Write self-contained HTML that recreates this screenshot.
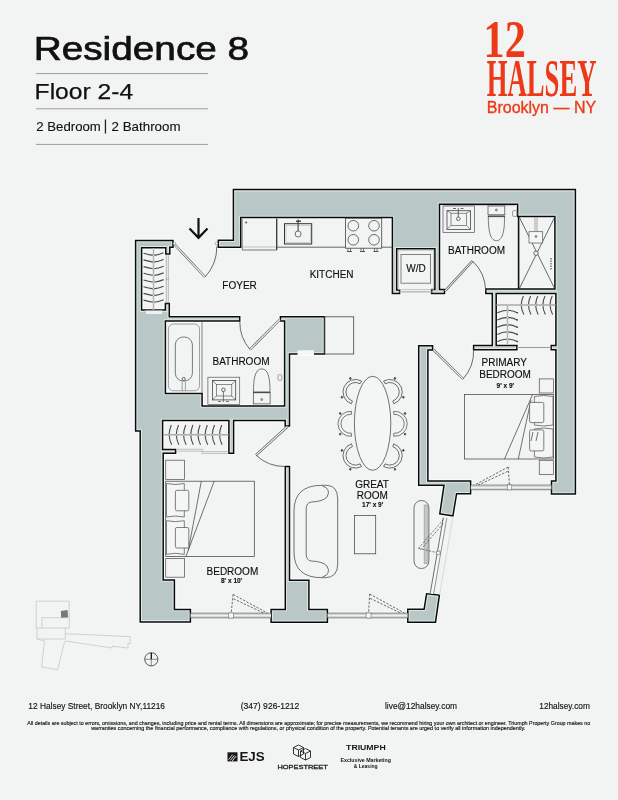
<!DOCTYPE html>
<html><head><meta charset="utf-8"><title>Residence 8</title>
<style>
html,body{margin:0;padding:0;background:#f2f4f3;}
body{width:618px;height:800px;overflow:hidden;position:relative;font-family:"Liberation Sans",sans-serif;}
svg{position:absolute;left:0;top:0;display:block;will-change:transform;}
</style></head><body>
<svg width="618" height="800" viewBox="0 0 618 800" font-family="Liberation Sans, sans-serif">
<rect x="0" y="0" width="618" height="800" fill="#f2f4f3"/>

<!-- ===== HEADER ===== -->
<g id="header">
  <text x="33.7" y="60.3" font-size="32.3" fill="#111" stroke="#111" stroke-width="0.7" textLength="215.5" lengthAdjust="spacingAndGlyphs">Residence 8</text>
  <line x1="36" y1="73.6" x2="208" y2="73.6" stroke="#9e9a9a" stroke-width="1"/>
  <text x="34.6" y="99" font-size="22.3" fill="#111" stroke="#111" stroke-width="0.25" textLength="98.6" lengthAdjust="spacingAndGlyphs">Floor 2-4</text>
  <line x1="36" y1="108.8" x2="208" y2="108.8" stroke="#9e9a9a" stroke-width="1"/>
  <text x="36.3" y="131.2" font-size="12.4" fill="#111" stroke="#111" stroke-width="0.12" textLength="64.5" lengthAdjust="spacingAndGlyphs">2 Bedroom</text>
  <rect x="104.8" y="119.5" width="1.3" height="14" fill="#222"/>
  <text x="111.6" y="131.2" font-size="12.4" fill="#111" stroke="#111" stroke-width="0.12" textLength="69" lengthAdjust="spacingAndGlyphs">2 Bathroom</text>
  <line x1="36" y1="144.4" x2="208" y2="144.4" stroke="#9e9a9a" stroke-width="1"/>
</g>

<!-- ===== LOGO ===== -->
<g id="logo" fill="#ec3a19">
  <text x="483.6" y="56.7" font-family="Liberation Serif, serif" font-weight="bold" font-size="53.6" textLength="42.2" lengthAdjust="spacingAndGlyphs">12</text>
  <text x="486.8" y="95.6" font-family="Liberation Serif, serif" font-weight="bold" font-size="52" textLength="109.7" lengthAdjust="spacingAndGlyphs">HALSEY</text>
  <text x="486.8" y="113.1" font-size="16.3" stroke="#ec3a19" stroke-width="0.35" textLength="109.3" lengthAdjust="spacingAndGlyphs">Brooklyn — NY</text>
</g>

<!-- ===== FLOOR PLAN ===== -->
<g id="plan">
  <path fill="#fbfcfc" fill-rule="evenodd" d="M242.60,249.10 L242.60,219.50 L390.50,219.50 L390.50,295.30 L401.50,295.30 L401.50,288.10 L398.60,288.10 L398.60,250.60 L433.00,250.60 L433.00,287.70 L429.70,287.70 L429.70,295.40 L446.40,295.40 L446.40,287.70 L441.40,287.70 L441.40,206.10 L515.70,206.10 L515.70,218.30 L553.00,218.30 L553.00,287.10 L483.90,287.10 L483.90,295.30 L490.40,295.30 L490.40,343.50 L471.70,343.50 L471.70,351.60 L518.80,351.60 L518.80,343.50 L498.10,343.50 L498.10,295.30 L554.00,295.30 L554.00,343.50 L549.30,343.50 L549.30,351.60 L554.00,351.60 L554.00,479.10 L549.60,479.10 L549.60,496.00 L577.30,496.00 L577.30,187.70 L231.50,187.70 L231.50,238.40 L216.40,238.40 L216.40,249.10 Z M441.80,487.20 L437.64,515.39 L454.46,517.96 L458.21,495.70 L472.50,495.70 L472.50,479.10 L429.80,479.10 L429.80,351.80 L434.50,351.80 L434.50,343.90 L416.80,343.90 L416.80,487.20 Z M405.90,624.10 L437.15,624.10 L441.56,593.42 L425.01,591.61 L422.48,607.30 L405.90,607.30 Z M269.20,624.10 L329.30,624.10 L329.30,607.60 L310.80,607.60 L310.80,578.40 L291.40,578.40 L291.40,464.60 L283.40,464.60 L283.40,607.60 L269.20,607.60 Z M138.30,432.90 L138.30,623.80 L192.30,623.80 L192.30,607.60 L176.30,607.60 L176.30,578.10 L165.10,578.10 L165.10,455.20 L177.50,455.20 L177.50,447.70 L164.50,447.70 L164.50,422.40 L227.00,422.40 L227.00,455.20 L235.50,455.20 L235.50,422.40 L283.30,422.40 L283.30,427.90 L291.40,427.90 L291.40,355.90 L326.40,355.90 L326.40,314.90 L278.50,314.90 L278.50,322.90 L282.70,322.90 L282.70,404.10 L204.00,404.10 L204.00,391.50 L167.30,391.50 L167.30,322.90 L241.60,322.90 L241.60,314.90 L171.20,314.90 L171.20,301.70 L163.50,301.70 L163.50,308.20 L143.50,308.20 L143.50,249.60 L163.90,249.60 L163.90,255.80 L171.70,255.80 L171.70,249.20 L174.90,249.20 L174.90,238.50 L133.70,238.50 L133.70,432.90 Z"/>
  <path fill="#0a0a0a" fill-rule="evenodd" d="M241.45,247.95 L241.45,218.35 L391.65,218.35 L391.65,294.15 L400.35,294.15 L400.35,289.25 L397.45,289.25 L397.45,249.45 L434.15,249.45 L434.15,288.85 L430.85,288.85 L430.85,294.25 L445.25,294.25 L445.25,288.85 L440.25,288.85 L440.25,204.95 L516.85,204.95 L516.85,217.15 L554.15,217.15 L554.15,288.25 L485.05,288.25 L485.05,294.15 L491.55,294.15 L491.55,344.65 L472.85,344.65 L472.85,350.45 L517.65,350.45 L517.65,344.65 L496.95,344.65 L496.95,294.15 L555.15,294.15 L555.15,344.65 L550.45,344.65 L550.45,350.45 L555.15,350.45 L555.15,480.25 L550.75,480.25 L550.75,494.85 L576.15,494.85 L576.15,188.85 L232.65,188.85 L232.65,239.55 L217.55,239.55 L217.55,247.95 Z M443.13,486.05 L438.95,514.43 L453.52,516.65 L457.23,494.55 L471.35,494.55 L471.35,480.25 L428.65,480.25 L428.65,350.65 L433.35,350.65 L433.35,345.05 L417.95,345.05 L417.95,486.05 Z M407.05,622.95 L436.15,622.95 L440.25,594.44 L425.97,592.88 L423.46,608.45 L407.05,608.45 Z M270.35,622.95 L328.15,622.95 L328.15,608.75 L309.65,608.75 L309.65,579.55 L290.25,579.55 L290.25,465.75 L284.55,465.75 L284.55,608.75 L270.35,608.75 Z M139.45,431.75 L139.45,622.65 L191.15,622.65 L191.15,608.75 L175.15,608.75 L175.15,579.25 L163.95,579.25 L163.95,454.05 L176.35,454.05 L176.35,448.85 L163.35,448.85 L163.35,421.25 L228.15,421.25 L228.15,454.05 L234.35,454.05 L234.35,421.25 L284.45,421.25 L284.45,426.75 L290.25,426.75 L290.25,354.75 L325.25,354.75 L325.25,316.05 L279.65,316.05 L279.65,321.75 L283.85,321.75 L283.85,405.25 L202.85,405.25 L202.85,392.65 L166.15,392.65 L166.15,321.75 L240.45,321.75 L240.45,316.05 L170.05,316.05 L170.05,302.85 L164.65,302.85 L164.65,309.35 L142.35,309.35 L142.35,248.45 L165.05,248.45 L165.05,254.65 L170.55,254.65 L170.55,248.05 L173.75,248.05 L173.75,239.65 L134.85,239.65 L134.85,431.75 Z"/>
  <path fill="#dbe8e5" fill-rule="evenodd" d="M239.95,246.45 L239.95,216.85 L393.15,216.85 L393.15,292.65 L398.85,292.65 L398.85,290.75 L395.95,290.75 L395.95,247.95 L435.65,247.95 L435.65,290.35 L432.35,290.35 L432.35,292.75 L443.75,292.75 L443.75,290.35 L438.75,290.35 L438.75,203.45 L518.35,203.45 L518.35,215.65 L555.65,215.65 L555.65,289.75 L486.55,289.75 L486.55,292.65 L493.05,292.65 L493.05,346.15 L474.35,346.15 L474.35,348.95 L516.15,348.95 L516.15,346.15 L495.45,346.15 L495.45,292.65 L556.65,292.65 L556.65,346.15 L551.95,346.15 L551.95,348.95 L556.65,348.95 L556.65,481.75 L552.25,481.75 L552.25,493.35 L574.65,493.35 L574.65,190.35 L234.15,190.35 L234.15,241.05 L219.05,241.05 L219.05,246.45 Z M444.87,484.55 L440.65,513.17 L452.28,514.95 L455.97,493.05 L469.85,493.05 L469.85,481.75 L427.15,481.75 L427.15,349.15 L431.85,349.15 L431.85,346.55 L419.45,346.55 L419.45,484.55 Z M408.55,621.45 L434.85,621.45 L438.55,595.76 L427.23,594.52 L424.74,609.95 L408.55,609.95 Z M271.85,621.45 L326.65,621.45 L326.65,610.25 L308.15,610.25 L308.15,581.05 L288.75,581.05 L288.75,467.25 L286.05,467.25 L286.05,610.25 L271.85,610.25 Z M140.95,430.25 L140.95,621.15 L189.65,621.15 L189.65,610.25 L173.65,610.25 L173.65,580.75 L162.45,580.75 L162.45,452.55 L174.85,452.55 L174.85,450.35 L161.85,450.35 L161.85,419.75 L229.65,419.75 L229.65,452.55 L232.85,452.55 L232.85,419.75 L285.95,419.75 L285.95,425.25 L288.75,425.25 L288.75,353.25 L323.75,353.25 L323.75,317.55 L281.15,317.55 L281.15,320.25 L285.35,320.25 L285.35,406.75 L201.35,406.75 L201.35,394.15 L164.65,394.15 L164.65,320.25 L238.95,320.25 L238.95,317.55 L168.55,317.55 L168.55,304.35 L166.15,304.35 L166.15,310.85 L140.85,310.85 L140.85,246.95 L166.55,246.95 L166.55,253.15 L169.05,253.15 L169.05,246.55 L172.25,246.55 L172.25,241.15 L136.35,241.15 L136.35,430.25 Z"/>
  <path fill="#b9c8c6" fill-rule="evenodd" d="M238.90,245.40 L238.90,215.80 L394.20,215.80 L394.20,291.60 L394.90,291.60 L394.90,246.90 L436.70,246.90 L436.70,291.40 L433.40,291.40 L433.40,291.70 L442.70,291.70 L442.70,291.40 L437.70,291.40 L437.70,202.40 L519.40,202.40 L519.40,214.60 L556.70,214.60 L556.70,290.80 L487.60,290.80 L487.60,291.60 L494.10,291.60 L494.10,347.20 L475.40,347.20 L475.40,347.90 L515.10,347.90 L515.10,347.20 L494.40,347.20 L494.40,291.60 L557.70,291.60 L557.70,347.20 L553.00,347.20 L553.00,347.90 L557.70,347.90 L557.70,482.80 L553.30,482.80 L553.30,492.30 L573.60,492.30 L573.60,191.40 L235.20,191.40 L235.20,242.10 L220.10,242.10 L220.10,245.40 Z M446.08,483.50 L441.84,512.29 L451.42,513.75 L455.08,492.00 L468.80,492.00 L468.80,482.80 L426.10,482.80 L426.10,348.10 L430.80,348.10 L430.80,347.60 L420.50,347.60 L420.50,483.50 Z M409.60,620.40 L433.94,620.40 L437.35,596.69 L428.10,595.68 L425.63,611.00 L409.60,611.00 Z M272.90,620.40 L325.60,620.40 L325.60,611.30 L307.10,611.30 L307.10,582.10 L287.70,582.10 L287.70,468.30 L287.10,468.30 L287.10,611.30 L272.90,611.30 Z M142.00,429.20 L142.00,620.10 L188.60,620.10 L188.60,611.30 L172.60,611.30 L172.60,581.80 L161.40,581.80 L161.40,451.50 L173.80,451.50 L173.80,451.40 L160.80,451.40 L160.80,418.70 L230.70,418.70 L230.70,451.50 L231.80,451.50 L231.80,418.70 L287.00,418.70 L287.00,424.20 L287.70,424.20 L287.70,352.20 L322.70,352.20 L322.70,318.60 L282.20,318.60 L282.20,319.20 L286.40,319.20 L286.40,407.80 L200.30,407.80 L200.30,395.20 L163.60,395.20 L163.60,319.20 L237.90,319.20 L237.90,318.60 L167.50,318.60 L167.50,305.40 L167.20,305.40 L167.20,311.90 L139.80,311.90 L139.80,245.90 L167.60,245.90 L167.60,252.10 L168.00,252.10 L168.00,245.50 L171.20,245.50 L171.20,242.20 L137.40,242.20 L137.40,429.20 Z"/>
</g>


<!-- ===== FURNITURE / FIXTURES ===== -->
<g id="fixtures" fill="none" stroke="#3e3e3e" stroke-width="0.75">
  <!-- light rects in walls -->
  <rect x="145.4" y="310.6" width="17.4" height="4" fill="#eef2f1" stroke="#9aa" stroke-width="0.5"/>
  <rect x="297.5" y="350.3" width="16.5" height="4.7" fill="#f6f7f7" stroke="none"/>

  <!-- entry arrow -->
  <path d="M198.5,218 V237.5 M189.5,228.5 L198.5,237.8 L207.5,228.5" stroke="#111" stroke-width="2.2"/>

  <!-- entry door -->
  <line x1="174.5" y1="244.5" x2="205" y2="277" stroke="#555" stroke-width="2.4"/>
  <line x1="174.5" y1="244.5" x2="205" y2="277" stroke="#f7f8f8" stroke-width="1.1"/>
  <path d="M205,277 A44,44 0 0 0 216.8,246.5" stroke="#444" stroke-width="0.8"/>
  <circle cx="174.4" cy="243.6" r="1.3" fill="#fff" stroke="#555" stroke-width="0.5"/>
  <circle cx="216.6" cy="243.6" r="1.3" fill="#fff" stroke="#555" stroke-width="0.5"/>

  <!-- foyer closet -->
  <line x1="153.5" y1="248" x2="153.5" y2="310" stroke="#b0b4b4" stroke-width="1.4"/>
  <path d="M143.5,253.2 Q148.5,254.8 153.5,255.4 Q158.5,254.8 163.6,252.8 M143.5,259.9 Q148.5,261.5 153.5,262.1 Q158.5,261.5 163.6,259.5 M143.5,266.6 Q148.5,268.2 153.5,268.8 Q158.5,268.2 163.6,266.2 M143.5,273.3 Q148.5,274.9 153.5,275.5 Q158.5,274.9 163.6,272.9 M143.5,280.0 Q148.5,281.6 153.5,282.2 Q158.5,281.6 163.6,279.6 M143.5,286.7 Q148.5,288.3 153.5,288.9 Q158.5,288.3 163.6,286.3 M143.5,293.4 Q148.5,295.0 153.5,295.6 Q158.5,295.0 163.6,293.0 M143.5,300.1 Q148.5,301.7 153.5,302.3 Q158.5,301.7 163.6,299.7" stroke="#4a4a4a" stroke-width="1.15"/>
  <g fill="#f4f6f5" stroke="#888" stroke-width="0.4"><circle cx="153.5" cy="255.4" r="0.9"/><circle cx="153.5" cy="262.1" r="0.9"/><circle cx="153.5" cy="268.8" r="0.9"/><circle cx="153.5" cy="275.5" r="0.9"/><circle cx="153.5" cy="282.2" r="0.9"/><circle cx="153.5" cy="288.9" r="0.9"/><circle cx="153.5" cy="295.6" r="0.9"/><circle cx="153.5" cy="302.3" r="0.9"/></g>
  <path d="M166.3,254 V303.6 M168.3,254 V303.6 M165.8,279 H168.8" stroke="#777" stroke-width="0.5"/>
  <!-- kitchen -->
  <path d="M242.2,219 V250 H276.7 V219" stroke="#444" stroke-width="0.7"/>
  <line x1="276.7" y1="218.5" x2="276.7" y2="250" stroke="#333" stroke-width="1.1"/>
  <line x1="242.2" y1="247" x2="276.7" y2="247" stroke="#777" stroke-width="0.4"/>
  <circle cx="246.2" cy="222.5" r="1" fill="#555" stroke="none"/>
  <line x1="276.7" y1="247.2" x2="345.4" y2="247.2" stroke="#444" stroke-width="0.8"/>
  <line x1="381.7" y1="247.2" x2="392.4" y2="247.2" stroke="#444" stroke-width="0.8"/>
  <rect x="284.5" y="223.7" width="27.2" height="20.3" stroke="#333" stroke-width="1"/>
  <rect x="286" y="225.2" width="24.2" height="17.3" stroke="#999" stroke-width="0.4"/>
  <circle cx="298.1" cy="234" r="3" stroke="#444"/>
  <line x1="298.1" y1="219.5" x2="298.1" y2="231" stroke="#333" stroke-width="1"/>
  <path d="M296,221.2 H301" stroke="#333" stroke-width="1.3"/>
  <rect x="345.4" y="218.2" width="36.3" height="30" stroke="#444" stroke-width="0.8"/>
  <circle cx="353.3" cy="225.7" r="5.3"/><circle cx="374" cy="225.7" r="5.3"/>
  <circle cx="353.3" cy="239.8" r="5.3"/><circle cx="374" cy="239.8" r="5.3"/>
  <path d="M348,248.2 V251.5 M350.5,248.2 V251.5 M361,248.2 V251.5 M363.5,248.2 V251.5 M374.5,248.2 V251.5 M377,248.2 V251.5" stroke="#444" stroke-width="0.7"/>
  <path d="M347,251.5 H352 M360,251.5 H365 M373.5,251.5 H378.5" stroke="#444" stroke-width="0.9"/>

  <!-- island -->
  <rect x="324.5" y="316.8" width="29.2" height="37.2" stroke="#444" stroke-width="0.8"/>

  <!-- W/D -->
  <rect x="398.6" y="250.2" width="35" height="39.5" stroke="#aaa" stroke-width="0.6"/>
  <rect x="401" y="254.4" width="29.6" height="28.8" stroke="#666" stroke-width="0.8"/>
  <line x1="399.6" y1="291.8" x2="431.6" y2="291.8" stroke="#bbb" stroke-width="1.5"/>

  <!-- right bathroom -->
  <line x1="443" y1="205.6" x2="515" y2="205.6" stroke="#999" stroke-width="0.6"/>
  <rect x="443" y="206" width="31.5" height="26.6" stroke="#555" stroke-width="0.7"/>
  <rect x="447" y="210.7" width="23.5" height="18.7" stroke="#444" stroke-width="0.8"/>
  <rect x="451" y="213.2" width="15.4" height="12.1" stroke="#444" stroke-width="0.6"/>
  <path d="M447,210.7 L451,213.2 M470.5,210.7 L466.4,213.2 M447,229.4 L451,225.3 M470.5,229.4 L466.4,225.3" stroke="#444" stroke-width="0.6"/>
  <circle cx="458.3" cy="218.8" r="1.8"/>
  <path d="M458.3,208 V217 M453,208.5 H456 M460.5,208.5 H463.5" stroke="#444" stroke-width="0.8"/>
  <rect x="488" y="206" width="16.8" height="8.8" stroke="#444" stroke-width="0.7"/>
  <circle cx="496.4" cy="210" r="0.9"/>
  <path d="M488.3,215.8 H504.6 C504.6,228 503.5,240.7 496.45,240.7 C489.4,240.7 488.3,228 488.3,215.8 Z" stroke="#444" stroke-width="0.7"/>
  <line x1="488" y1="216.6" x2="505" y2="216.6" stroke="#444" stroke-width="1"/>
  <rect x="512.5" y="210.5" width="4.5" height="6" rx="1.5" stroke="#666" stroke-width="0.6"/>
  <!-- shower -->
  <line x1="518.6" y1="216" x2="518.6" y2="289" stroke="#111" stroke-width="1.6"/>
  <path d="M519.5,217.5 L554.5,288.3 M554.5,217.5 L519.5,288.3" stroke="#444" stroke-width="0.8"/>
  <rect x="529" y="231.7" width="13.7" height="11.3" fill="#f4f6f5" stroke="#555" stroke-width="0.7"/>
  <path d="M535,217 V231.7 M537,217 V231.7" stroke="#888" stroke-width="0.7"/>
  <circle cx="536" cy="236.5" r="0.9"/>
  <circle cx="536" cy="253.2" r="2.2" fill="#f4f6f5"/>
  <path d="M551,258 V270" stroke="#555" stroke-width="1.2" stroke-dasharray="1.5 1"/>
  <!-- bathroom door -->
  <line x1="445" y1="291" x2="472.5" y2="261" stroke="#555" stroke-width="2.4"/>
  <line x1="445" y1="291" x2="472.5" y2="261" stroke="#f7f8f8" stroke-width="1.1"/>
  <path d="M472.5,261 A41.3,41.3 0 0 1 485.6,290.5" stroke="#444" stroke-width="0.8"/>

  <!-- walk-in closet -->
  <line x1="496.5" y1="305.1" x2="555.5" y2="305.1" stroke="#a8acac" stroke-width="1.5"/>
  <line x1="507.5" y1="305.1" x2="507.5" y2="345" stroke="#b0b4b4" stroke-width="1.4"/>
  <path d="M523.4,296 Q521.4,300 521.2,305.1 Q521.4,310 523.8,314.5 M530.6,296 Q528.6,300 528.4,305.1 Q528.6,310 531.0,314.5 M537.8,296 Q535.8,300 535.6,305.1 Q535.8,310 538.2,314.5 M545.0,296 Q543.0,300 542.8,305.1 Q543.0,310 545.4,314.5 M552.2,296 Q550.2,300 550.0,305.1 Q550.2,310 552.6,314.5" stroke="#4a4a4a" stroke-width="1.1"/>
  <path d="M497.3,312.8 Q502.4,310.4 507.5,310.2 Q512.5,310.4 517.4,312.8 M497.3,320.0 Q502.4,317.6 507.5,317.4 Q512.5,317.6 517.4,320.0 M497.3,327.2 Q502.4,324.8 507.5,324.6 Q512.5,324.8 517.4,327.2 M497.3,334.4 Q502.4,332.0 507.5,331.8 Q512.5,332.0 517.4,334.4 M497.3,341.6 Q502.4,339.2 507.5,339.0 Q512.5,339.2 517.4,341.6" stroke="#4a4a4a" stroke-width="1.1"/>
  <g fill="#f4f6f5" stroke="#888" stroke-width="0.4"><circle cx="521.2" cy="305.1" r="0.9"/><circle cx="528.4" cy="305.1" r="0.9"/><circle cx="535.6" cy="305.1" r="0.9"/><circle cx="542.8" cy="305.1" r="0.9"/><circle cx="550.0" cy="305.1" r="0.9"/><circle cx="507.5" cy="310.2" r="0.9"/><circle cx="507.5" cy="317.4" r="0.9"/><circle cx="507.5" cy="324.6" r="0.9"/><circle cx="507.5" cy="331.8" r="0.9"/><circle cx="507.5" cy="339.0" r="0.9"/></g>
  <g fill="#333" stroke="none"><circle cx="517.2" cy="312.8" r="0.8"/><circle cx="517.2" cy="320.0" r="0.8"/><circle cx="517.2" cy="327.2" r="0.8"/><circle cx="517.2" cy="334.4" r="0.8"/><circle cx="517.2" cy="341.6" r="0.8"/></g>
  <line x1="516.9" y1="347.5" x2="551.2" y2="347.5" stroke="#999" stroke-width="1.2"/>

  <!-- primary bedroom door -->
  <line x1="433.5" y1="349.8" x2="463" y2="379" stroke="#555" stroke-width="2.4"/>
  <line x1="433.5" y1="349.8" x2="463" y2="379" stroke="#f7f8f8" stroke-width="1.1"/>
  <path d="M463,379 A41.5,41.5 0 0 0 473.6,349.5" stroke="#444" stroke-width="0.8"/>

  <!-- primary bed -->
  <rect x="539.3" y="378.9" width="14.2" height="14.1" stroke="#555"/>
  <rect x="539.3" y="460.3" width="14.2" height="14.1" stroke="#555"/>
  <rect x="464.5" y="394.6" width="89" height="64.4" stroke="#444"/>
  <path d="M532.5,394.6 L504.5,459 M531,400 L518.3,459" stroke="#444"/>
  <path d="M534.4,396.5 Q543.7,394.5 553,396.5 V425 Q543.7,427 534.4,425 Z" fill="#f4f6f5" stroke="#555"/>
  <path d="M534.4,429 Q543.7,427 553,429 V457 Q543.7,459 534.4,457 Z" fill="#f4f6f5" stroke="#555"/>
  <rect x="529.6" y="402.4" width="14.2" height="20.2" rx="1.5" fill="#f4f6f5" stroke="#555"/>
  <rect x="529.6" y="429.9" width="14.2" height="21" rx="1.5" fill="#f4f6f5" stroke="#555"/>
  <path d="M533,432 L531,441 M538,432 L536,441" stroke="#444"/>
  <!-- primary window -->
  <rect x="470.8" y="485.1" width="80.5" height="4.6" fill="#f8f9f9" stroke="none"/><path d="M470.8,485.1 H551.3 M470.8,489.7 H551.3" stroke="#4a4a4a" stroke-width="0.7"/><path d="M470.8,486.5 H551.3 M470.8,488.3 H551.3" stroke="#a0a4a4" stroke-width="0.45"/><rect x="507.2" y="484.9" width="4.6" height="5.0" fill="#f8f9f9" stroke="#555" stroke-width="0.5"/>
  <path d="M508.2,467 L474.6,485 M507.6,471.4 L478.2,485 M508.2,467 L509.5,485" stroke="#3a3a3a" stroke-width="0.75" stroke-dasharray="2.3 1.5"/>

  <!-- left bathroom -->
  <rect x="168.4" y="324" width="31.1" height="66.8" rx="5" stroke="#666" stroke-width="0.6"/>
  <rect x="175.3" y="337" width="17.1" height="44.1" rx="8" stroke="#444" stroke-width="0.7"/>
  <circle cx="183.7" cy="379" r="1.6"/>
  <path d="M182.2,382 V391 M185.4,382 V391" stroke="#666" stroke-width="0.6"/>
  <line x1="202" y1="321" x2="202" y2="393.4" stroke="#555" stroke-width="0.7"/>
  <rect x="207.9" y="377.2" width="31.8" height="27.2" stroke="#555" stroke-width="0.7"/>
  <rect x="212.4" y="380.5" width="23.3" height="19.4" stroke="#444" stroke-width="0.8"/>
  <rect x="216.3" y="384.4" width="15.5" height="11.6" stroke="#444" stroke-width="0.6"/>
  <path d="M212.4,380.5 L216.3,384.4 M235.7,380.5 L231.8,384.4 M212.4,399.9 L216.3,396 M235.7,399.9 L231.8,396" stroke="#444" stroke-width="0.6"/>
  <circle cx="223.4" cy="389.8" r="1.8"/>
  <path d="M223.4,391.5 V402 M218,401.5 H221 M226,401.5 H229" stroke="#444" stroke-width="0.7"/>
  <rect x="253.3" y="392.8" width="16.8" height="11.1" stroke="#444" stroke-width="0.7"/>
  <circle cx="261.7" cy="399.5" r="0.9"/>
  <path d="M253.5,392 H270 C270,380 268.9,368.9 261.75,368.9 C254.6,368.9 253.5,380 253.5,392 Z" stroke="#444" stroke-width="0.7"/>
  <line x1="253" y1="392.4" x2="270.5" y2="392.4" stroke="#444" stroke-width="1"/>
  <rect x="278" y="374.5" width="3.8" height="6" rx="1.5" stroke="#666" stroke-width="0.6"/>
  <!-- left bathroom door -->
  <line x1="280" y1="319.5" x2="250" y2="349.5" stroke="#555" stroke-width="2.4"/>
  <line x1="280" y1="319.5" x2="250" y2="349.5" stroke="#f7f8f8" stroke-width="1.1"/>
  <path d="M250,349.5 A42,42 0 0 1 239.8,321.5" stroke="#444" stroke-width="0.8"/>

  <!-- bedroom closet -->
  <line x1="163" y1="434.8" x2="228.5" y2="434.8" stroke="#a8acac" stroke-width="1.5"/>
  <path d="M171.3,425 Q169.3,430 169.1,434.8 Q169.3,440 171.7,444.8 M178.5,425 Q176.5,430 176.3,434.8 Q176.5,440 178.9,444.8 M185.7,425 Q183.7,430 183.5,434.8 Q183.7,440 186.1,444.8 M192.9,425 Q190.9,430 190.7,434.8 Q190.9,440 193.3,444.8 M200.1,425 Q198.1,430 197.9,434.8 Q198.1,440 200.5,444.8 M207.3,425 Q205.3,430 205.1,434.8 Q205.3,440 207.7,444.8 M214.5,425 Q212.5,430 212.3,434.8 Q212.5,440 214.9,444.8 M221.7,425 Q219.7,430 219.5,434.8 Q219.7,440 222.1,444.8" stroke="#4a4a4a" stroke-width="1.1"/>
  <g fill="#f4f6f5" stroke="#888" stroke-width="0.4"><circle cx="169.1" cy="434.8" r="0.9"/><circle cx="176.3" cy="434.8" r="0.9"/><circle cx="183.5" cy="434.8" r="0.9"/><circle cx="190.7" cy="434.8" r="0.9"/><circle cx="197.9" cy="434.8" r="0.9"/><circle cx="205.1" cy="434.8" r="0.9"/><circle cx="212.3" cy="434.8" r="0.9"/><circle cx="219.5" cy="434.8" r="0.9"/></g>
  <path d="M176.8,449.3 H203.4 M176.8,451.2 H203.4 M201,451.6 H228.6 M201,453.4 H228.6" stroke="#888" stroke-width="0.5"/>

  <!-- bedroom door -->
  <line x1="287.5" y1="426.5" x2="256" y2="455.2" stroke="#555" stroke-width="2.4"/>
  <line x1="287.5" y1="426.5" x2="256" y2="455.2" stroke="#f7f8f8" stroke-width="1.1"/>
  <path d="M256,455.2 A42,42 0 0 0 285,466.5" stroke="#444" stroke-width="0.8"/>

  <!-- left bed -->
  <rect x="165.7" y="460.2" width="18.9" height="19.4" stroke="#555"/>
  <rect x="165.7" y="558.6" width="18.9" height="18.6" stroke="#555"/>
  <rect x="165.7" y="481.2" width="88.6" height="75.3" stroke="#444"/>
  <path d="M201.3,481.2 L188.3,550.5 M214.2,481.2 L185.9,556.5" stroke="#444"/>
  <path d="M166.5,483.5 Q175.4,485.5 184.3,483.5 V517 Q175.4,515 166.5,517 Z" fill="#f4f6f5" stroke="#555"/>
  <path d="M166.5,520.7 Q175.4,522.7 184.3,520.7 V554.3 Q175.4,552.3 166.5,554.3 Z" fill="#f4f6f5" stroke="#555"/>
  <rect x="175.4" y="490.3" width="13.4" height="20.5" rx="1.5" fill="#f4f6f5" stroke="#555"/>
  <rect x="175.4" y="527.5" width="13.4" height="20.5" rx="1.5" fill="#f4f6f5" stroke="#555"/>
  <!-- left bedroom window -->
  <rect x="190.6" y="613.2" width="80.4" height="4.6" fill="#f8f9f9" stroke="none"/><path d="M190.6,613.2 H271.0 M190.6,617.8 H271.0" stroke="#4a4a4a" stroke-width="0.7"/><path d="M190.6,614.6 H271.0 M190.6,616.4 H271.0" stroke="#a0a4a4" stroke-width="0.45"/><rect x="228.8" y="613.0" width="4.6" height="5.0" fill="#f8f9f9" stroke="#555" stroke-width="0.5"/>
  <path d="M233.1,594.4 L267.3,613 M233.6,598.8 L263.8,613.1 M233.1,594.4 L231.2,613" stroke="#3a3a3a" stroke-width="0.75" stroke-dasharray="2.3 1.5"/>

  <!-- great room: dining -->
  <g stroke="#444" stroke-width="0.7" fill="none">
    <g transform="translate(355.5,392) rotate(24)"><path d="M1.09,-12.45 A12.5,12.5 0 1 0 1.09,12.45 M0.83,-9.46 A9.5,9.5 0 1 0 0.83,9.46 M1.09,-12.45 L0.83,-9.46 M1.09,12.45 L0.83,9.46"/><circle cx="-10.3" cy="-10.3" r="0.9" fill="#444"/><circle cx="-10.3" cy="10.3" r="0.9" fill="#444"/></g>
    <g transform="translate(350.5,423.8)"><path d="M1.09,-12.45 A12.5,12.5 0 1 0 1.09,12.45 M0.83,-9.46 A9.5,9.5 0 1 0 0.83,9.46 M1.09,-12.45 L0.83,-9.46 M1.09,12.45 L0.83,9.46"/><circle cx="-10.3" cy="-10.3" r="0.9" fill="#444"/><circle cx="-10.3" cy="10.3" r="0.9" fill="#444"/></g>
    <g transform="translate(355.5,455.6) rotate(-24)"><path d="M1.09,-12.45 A12.5,12.5 0 1 0 1.09,12.45 M0.83,-9.46 A9.5,9.5 0 1 0 0.83,9.46 M1.09,-12.45 L0.83,-9.46 M1.09,12.45 L0.83,9.46"/><circle cx="-10.3" cy="-10.3" r="0.9" fill="#444"/><circle cx="-10.3" cy="10.3" r="0.9" fill="#444"/></g>
    <g transform="translate(389.7,392) rotate(156)"><path d="M1.09,-12.45 A12.5,12.5 0 1 0 1.09,12.45 M0.83,-9.46 A9.5,9.5 0 1 0 0.83,9.46 M1.09,-12.45 L0.83,-9.46 M1.09,12.45 L0.83,9.46"/><circle cx="-10.3" cy="-10.3" r="0.9" fill="#444"/><circle cx="-10.3" cy="10.3" r="0.9" fill="#444"/></g>
    <g transform="translate(394.7,423.8) rotate(180)"><path d="M1.09,-12.45 A12.5,12.5 0 1 0 1.09,12.45 M0.83,-9.46 A9.5,9.5 0 1 0 0.83,9.46 M1.09,-12.45 L0.83,-9.46 M1.09,12.45 L0.83,9.46"/><circle cx="-10.3" cy="-10.3" r="0.9" fill="#444"/><circle cx="-10.3" cy="10.3" r="0.9" fill="#444"/></g>
    <g transform="translate(389.7,455.6) rotate(204)"><path d="M1.09,-12.45 A12.5,12.5 0 1 0 1.09,12.45 M0.83,-9.46 A9.5,9.5 0 1 0 0.83,9.46 M1.09,-12.45 L0.83,-9.46 M1.09,12.45 L0.83,9.46"/><circle cx="-10.3" cy="-10.3" r="0.9" fill="#444"/><circle cx="-10.3" cy="10.3" r="0.9" fill="#444"/></g>
  </g>
  <ellipse cx="372.6" cy="423.3" rx="18.2" ry="47" fill="#f4f6f5" stroke="#444"/>
  <!-- sofa -->
  <path d="M322,485.3 H326 Q337.7,485.3 337.7,499 V564 Q337.7,577.7 325,577.7 H322 Q294,577.7 294,552 V511 Q294,485.3 322,485.3 Z" stroke="#444"/>
  <path d="M322.5,486 Q331.5,489 327,497 Q323,501.5 311.5,502 Q306.2,502.5 306.2,509 V554 Q306.2,560.5 311.5,561 Q323,561.5 327,566 Q331.5,574 322.5,577" stroke="#444"/>
  <!-- coffee table -->
  <rect x="354.4" y="515.6" width="21.3" height="38.2" stroke="#444"/>
  <!-- tv console -->
  <rect x="414" y="500.5" width="14.9" height="68" rx="7.4" stroke="#444"/>
  <rect x="424.1" y="505" width="4" height="58.5" fill="#c4c8c8" stroke="#888" stroke-width="0.5"/>
  <!-- great room bottom window -->
  <rect x="327.6" y="613.2" width="80.0" height="4.6" fill="#f8f9f9" stroke="none"/><path d="M327.6,613.2 H407.6 M327.6,617.8 H407.6" stroke="#4a4a4a" stroke-width="0.7"/><path d="M327.6,614.6 H407.6 M327.6,616.4 H407.6" stroke="#a0a4a4" stroke-width="0.45"/><rect x="366.1" y="613.0" width="4.9" height="5.0" fill="#f8f9f9" stroke="#555" stroke-width="0.5"/>
  <path d="M369.7,594 L404.3,613 M370.2,598.4 L400.8,613.1 M369.7,594 L368.6,613" stroke="#3a3a3a" stroke-width="0.75" stroke-dasharray="2.3 1.5"/>
  <!-- great room angled window -->
  <polygon points="443.4,517.4 446.8,517.9 433.6,594 430.2,593.5" fill="#f7f8f8" stroke="none"/>
  <line x1="443.4" y1="517.4" x2="430.2" y2="593.5" stroke="#4a4a4a" stroke-width="0.8"/>
  <line x1="446.8" y1="517.9" x2="433.6" y2="594" stroke="#666" stroke-width="0.7"/>
  <rect x="-1.9" y="-1.6" width="3.8" height="3.2" transform="translate(438.2,552.8) rotate(-9.8)" fill="#f7f8f8" stroke="#555" stroke-width="0.5"/>
  <line x1="453" y1="516.5" x2="439.5" y2="595" stroke="#cfd4d4" stroke-width="0.8"/>
  <path d="M418.5,548.3 L443.3,519.6 M420.6,549.8 L444.2,522.5 M418.5,548.3 L436.6,552.6" stroke="#444" stroke-width="0.7" stroke-dasharray="2.2 1.4"/>
</g>

<!-- ===== LABELS ===== -->
<g id="labels" fill="#0d0d0d" stroke="#0d0d0d" stroke-width="0.12" font-size="10" text-anchor="middle">
  <text x="239.6" y="288.6">FOYER</text>
  <text x="331.6" y="277.5">KITCHEN</text>
  <text x="476.5" y="254.1">BATHROOM</text>
  <text x="241" y="364.7">BATHROOM</text>
  <text x="416.1" y="272">W/D</text>
  <text x="504.3" y="366">PRIMARY</text>
  <text x="505.1" y="377.6">BEDROOM</text>
  <text x="372" y="488">GREAT</text>
  <text x="372.4" y="499.1">ROOM</text>
  <text x="232.4" y="574.7">BEDROOM</text>
  <g font-size="6.5" font-weight="bold">
    <text x="372.7" y="507.3">17' x 9'</text>
    <text x="505.3" y="387.6">9' x 9'</text>
    <text x="231.6" y="583">8' x 10'</text>
  </g>
</g>>

<!-- ===== FOOTER ===== -->
<g id="footer" fill="#111" stroke="#111" stroke-width="0.15">
  <text x="28.3" y="708.5" font-size="9.8" textLength="136.7" lengthAdjust="spacingAndGlyphs">12 Halsey Street, Brooklyn NY,11216</text>
  <text x="240.7" y="708.5" font-size="9.8" textLength="58.7" lengthAdjust="spacingAndGlyphs">(347) 926-1212</text>
  <text x="385" y="708.5" font-size="9.8" textLength="72" lengthAdjust="spacingAndGlyphs">live@12halsey.com</text>
  <text x="539.3" y="708.5" font-size="9.8" textLength="50.5" lengthAdjust="spacingAndGlyphs">12halsey.com</text>
  <text x="27.3" y="724.8" font-size="5.3" fill="#222" textLength="562.9" lengthAdjust="spacingAndGlyphs">All details are subject to errors, omissions, and changes, including price and rental terms. All dimensions are approximate; for precise measurements, we recommend hiring your own architect or engineer. Triumph Property Group makes no</text>
  <text x="91.2" y="730.3" font-size="5.3" fill="#222" textLength="434.2" lengthAdjust="spacingAndGlyphs">warranties concerning the financial performance, compliance with regulations, or physical condition of the property. Potential tenants are urged to verify all information independently.</text>
</g>

<!-- ===== PARTNER LOGOS ===== -->
<g id="partners">
  <rect x="227.5" y="752.3" width="10" height="9.1" fill="#151515"/>
  <path d="M228.6,759.6 L232.6,754.6 M230.4,760.4 L234.4,755.4 M232.2,761 L236.2,756" stroke="#f2f4f3" stroke-width="0.9"/>
  <text x="239.4" y="761.4" font-size="12.6" font-weight="bold" fill="#151515" textLength="25.3" lengthAdjust="spacingAndGlyphs">EJS</text>
  <g fill="none" stroke="#222" stroke-width="0.9" stroke-linejoin="round">
    <path d="M293.5,747.5 L298.5,745 L303.5,747.5 L303.5,754 L298.5,756.5 L293.5,754 Z M293.5,747.5 L298.5,750 L303.5,747.5 M298.5,750 V756.5"/>
    <path d="M300.5,751 L305.5,748.5 L310.5,751 L310.5,757.5 L305.5,760 L300.5,757.5 Z M300.5,751 L305.5,753.5 L310.5,751 M305.5,753.5 V760"/>
  </g>
  <text x="277.4" y="769.4" font-size="6" fill="#222" stroke="#222" stroke-width="0.3" textLength="50.4" lengthAdjust="spacingAndGlyphs">HOPESTREET</text>
  <text x="346.1" y="749.6" font-size="7" font-weight="bold" fill="#151515" textLength="39.6" lengthAdjust="spacingAndGlyphs">TRIUMPH</text>
  <text x="340.5" y="762" font-size="5.4" font-weight="bold" fill="#151515" textLength="50.5" lengthAdjust="spacingAndGlyphs">Exclusive Marketing</text>
  <text x="353.7" y="768.4" font-size="5.4" font-weight="bold" fill="#151515" textLength="24" lengthAdjust="spacingAndGlyphs">&amp; Leasing</text>
</g>

<!-- ===== KEY PLAN ===== -->
<g id="keyplan" fill="none" stroke="#c3c9c8" stroke-width="0.8">
  <path d="M36.2,601.2 H69.2 V628 H36.2 Z M41.9,628 V617.7 H69.2"/>
  <path d="M37,628 V639 H65.2 V628"/>
  <path d="M65.2,633.7 L130.2,636.6 L130.2,643.5 L128,643.5 L128,648 L112,646.2 L112,648 L65.2,641"/>
  <path d="M37,639 L44.5,641 L41.6,667 L57.6,669.8 L64.7,641.3"/>
  <polygon points="60.8,611 67.6,610 68.1,617.2 61.2,617.7" fill="#737d7d" stroke="none"/>
</g>
<!-- compass -->
<g id="compass">
  <circle cx="151.3" cy="659.3" r="6.6" fill="none" stroke="#333" stroke-width="0.8"/>
  <path d="M151.3,652.7 V659.3" stroke="#111" stroke-width="1.3"/>
  <path d="M151.3,659.3 V665.9 M144.7,659.3 H157.9" stroke="#444" stroke-width="0.6"/>
</g>
</svg>
</body></html>
